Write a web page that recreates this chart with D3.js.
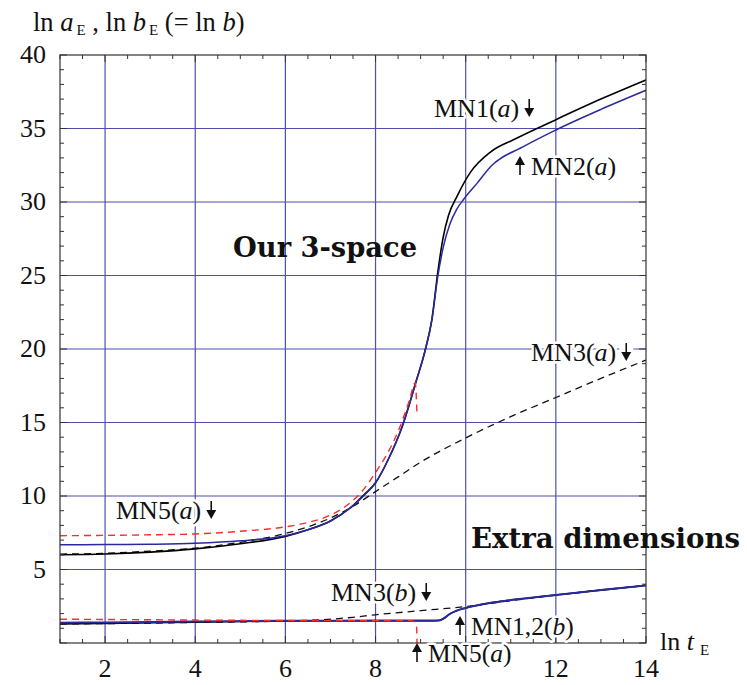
<!DOCTYPE html>
<html><head><meta charset="utf-8">
<script src="https://cdn.jsdelivr.net/npm/d3@7"></script>
<style>
html,body{margin:0;padding:0;background:#fff;}
svg{display:block;}
</style></head>
<body>
<script>
// ---- data (x = ln t_E, y = ln a_E or ln b_E) ----
const xTicks = [2, 4, 6, 8, 12, 14];
const yTicks = [5, 10, 15, 20, 25, 30, 35, 40];
const xGrid = [2, 4, 6, 8, 10, 12];
const yGrid = [5, 10, 15, 20, 25, 30, 35];

const MN1a = [[1,6.0],[2,6.05],[3,6.18],[4,6.4],[5,6.75],[6,7.25],[6.5,7.7],[7,8.3],[7.5,9.35],[7.75,10.1],[8,10.9],[8.3,12.6],[8.6,14.8],[8.9,17.8],[9.1,19.9],[9.25,22],[9.38,25.2],[9.5,27.6],[9.62,29.1],[9.81,30.4],[10.1,32.0],[10.55,33.4],[11.07,34.25],[12,35.6],[13,37.0],[14,38.3]];
const MN2a = [[1,6.68],[2,6.7],[3,6.72],[4,6.78],[5,6.95],[6,7.3],[6.5,7.7],[7,8.3],[7.5,9.35],[7.75,10.05],[8,10.9],[8.3,12.6],[8.6,14.8],[8.9,17.8],[9.1,19.9],[9.25,22],[9.38,24.9],[9.5,26.9],[9.65,28.5],[9.8,29.5],[9.96,30.2],[10.26,31.3],[10.55,32.4],[11.3,33.8],[12,34.9],[13,36.3],[14,37.6]];
const MN3a = [[1,6.05],[2,6.1],[3,6.25],[4,6.45],[5,6.85],[6,7.45],[6.5,7.9],[7,8.5],[7.5,9.3],[8,10.3],[8.5,11.3],[9,12.3],[10,13.95],[11,15.4],[12,16.7],[13,18.0],[14,19.25]];
const MN5a = [[1,7.3],[2,7.32],[3,7.36],[4,7.42],[5,7.6],[6,7.9],[6.5,8.2],[7,8.7],[7.5,9.7],[7.75,10.5],[8,11.6],[8.3,13.1],[8.56,14.85],[8.75,16.5],[8.88,17.7],[8.92,15.5]];
const MN5b = [[1,1.62],[2,1.6],[4,1.56],[6,1.53],[8,1.52],[8.8,1.52],[8.87,1.42],[8.91,1.1],[8.92,0]];
const MN1b = [[1,1.3],[2,1.33],[4,1.42],[6,1.5],[8,1.52],[9.3,1.52],[9.4,1.53],[9.5,1.65],[9.65,1.98],[9.8,2.2],[10,2.38],[10.5,2.7],[11,2.92],[12,3.27],[13,3.6],[14,3.92]];
const MN2b = [[1,1.38],[2,1.4],[4,1.46],[6,1.51],[8,1.52],[9.3,1.52],[9.4,1.53],[9.5,1.65],[9.65,1.98],[9.8,2.2],[10,2.38],[10.5,2.7],[11,2.92],[12,3.27],[13,3.6],[14,3.92]];
const MN3b = [[1,1.3],[2,1.32],[4,1.4],[6,1.5],[7,1.62],[7.5,1.75],[8,1.92],[9,2.2],[10,2.48],[11,2.88],[12,3.25],[13,3.6],[14,3.92]];

const W = 747, H = 685;
const svg = d3.select("body").append("svg").attr("width", W).attr("height", H);
const x = d3.scaleLinear().domain([1, 14]).range([60, 646]);
const y = d3.scaleLinear().domain([0, 40]).range([643, 55]);
const serif = "'Liberation Serif','Times New Roman',serif";
const gridColor = "#4f4fab";

// grid
svg.append("g").selectAll("line").data(xGrid).join("line")
  .attr("x1", d => x(d)).attr("x2", d => x(d)).attr("y1", y(0)).attr("y2", y(40))
  .attr("stroke", gridColor).attr("stroke-width", 1.2);
svg.append("g").selectAll("line").data(yGrid).join("line")
  .attr("y1", d => y(d)).attr("y2", d => y(d)).attr("x1", x(1)).attr("x2", x(14))
  .attr("stroke", gridColor).attr("stroke-width", 1.2);

// curves
const line = d3.line().x(d => x(d[0])).y(d => y(d[1])).curve(d3.curveMonotoneX);
const curves = [
  {d: MN3a, c: "#111", dash: "7,5", w: 1.3},
  {d: MN3b, c: "#111", dash: "7,5", w: 1.3},
  {d: MN1a, c: "#000", dash: null, w: 1.6},
  {d: MN1b, c: "#000", dash: null, w: 1.6},
  {d: MN2a, c: "#2a2a9a", dash: null, w: 1.5},
  {d: MN2b, c: "#2a2a9a", dash: null, w: 2},
  {d: MN5a, c: "#ff2a2a", dash: "7,5", w: 1.4},
  {d: MN5b, c: "#ff2a2a", dash: "7,5", w: 1.4}
];
svg.append("g").selectAll("path").data(curves).join("path")
  .attr("d", d => line(d.d)).attr("fill", "none")
  .attr("stroke", d => d.c).attr("stroke-width", d => d.w)
  .attr("stroke-dasharray", d => d.dash);

// frame and ticks
const fc = "#333";
svg.append("rect").attr("x", x(1)).attr("y", y(40)).attr("width", x(14) - x(1)).attr("height", y(0) - y(40))
  .attr("fill", "none").attr("stroke", fc).attr("stroke-width", 1.2);
const xMinor = d3.range(1, 14.01, 0.5);
const yMinor = d3.range(0, 40.01, 1);
const tk = svg.append("g").attr("stroke", fc).attr("stroke-width", 1);
xMinor.forEach(v => {
  const L = (v % 2 === 0) ? 7 : 4;
  tk.append("line").attr("x1", x(v)).attr("x2", x(v)).attr("y1", y(0)).attr("y2", y(0) - L);
  tk.append("line").attr("x1", x(v)).attr("x2", x(v)).attr("y1", y(40)).attr("y2", y(40) + L);
});
yMinor.forEach(v => {
  const L = (v % 5 === 0) ? 7 : 4;
  tk.append("line").attr("y1", y(v)).attr("y2", y(v)).attr("x1", x(1)).attr("x2", x(1) + L);
  tk.append("line").attr("y1", y(v)).attr("y2", y(v)).attr("x1", x(14)).attr("x2", x(14) - L);
});

// tick labels
svg.append("g").selectAll("text").data(xTicks).join("text")
  .attr("x", d => x(d)).attr("y", 677).attr("text-anchor", "middle")
  .attr("font-family", serif).attr("font-size", 26).attr("fill", "#111").text(d => d);
svg.append("g").selectAll("text").data(yTicks).join("text")
  .attr("x", 46).attr("y", d => y(d) + 8).attr("text-anchor", "end")
  .attr("font-family", serif).attr("font-size", 26).attr("fill", "#111").text(d => d);

// axis titles
const yt = svg.append("text").attr("x", 33).attr("y", 31).attr("font-family", serif)
  .attr("font-size", 26.5).attr("fill", "#111");
yt.append("tspan").text("ln ");
yt.append("tspan").attr("font-style", "italic").text("a");
yt.append("tspan").attr("font-size", 15).attr("dy", 4).attr("dx", 3).text("E");
yt.append("tspan").attr("dy", -4).text(" , ln ");
yt.append("tspan").attr("font-style", "italic").text("b");
yt.append("tspan").attr("font-size", 15).attr("dy", 4).attr("dx", 3).text("E");
yt.append("tspan").attr("dy", -4).text(" (= ln ");
yt.append("tspan").attr("font-style", "italic").text("b");
yt.append("tspan").text(")");

const xt = svg.append("text").attr("x", 660).attr("y", 650).attr("font-family", serif)
  .attr("font-size", 26).attr("fill", "#111");
xt.append("tspan").text("ln ");
xt.append("tspan").attr("font-style", "italic").text("t");
xt.append("tspan").attr("font-size", 15).attr("dy", 5).attr("dx", 6).text("E");

// curve labels (arrow: -1 = up arrow before text, 1 = down arrow after text)
const labels = [
  {name: "MN1", arg: "a", arrow: 1, x: 434, y: 117, fs: 26},
  {name: "MN2", arg: "a", arrow: -1, x: 514, y: 175, fs: 26},
  {name: "MN3", arg: "a", arrow: 1, x: 531, y: 361, fs: 26},
  {name: "MN5", arg: "a", arrow: 1, x: 116, y: 519, fs: 26},
  {name: "MN3", arg: "b", arrow: 1, x: 331, y: 601, fs: 26},
  {name: "MN1,2", arg: "b", arrow: -1, x: 454, y: 635, fs: 25.5},
  {name: "MN5", arg: "a", arrow: -1, x: 411, y: 662, fs: 25.5}
];
const lg = svg.append("g");
function arrow(g, cx, yTop, yBot, down) {
  const hl = 9, hw = 5;
  if (down) {
    g.append("line").attr("x1", cx).attr("x2", cx).attr("y1", yTop).attr("y2", yBot - hl + 1)
      .attr("stroke", "#111").attr("stroke-width", 1.6);
    g.append("path").attr("d", `M${cx - hw},${yBot - hl} L${cx + hw},${yBot - hl} L${cx},${yBot} Z`).attr("fill", "#111");
  } else {
    g.append("line").attr("x1", cx).attr("x2", cx).attr("y1", yTop + hl - 1).attr("y2", yBot)
      .attr("stroke", "#111").attr("stroke-width", 1.6);
    g.append("path").attr("d", `M${cx - hw},${yTop + hl} L${cx + hw},${yTop + hl} L${cx},${yTop} Z`).attr("fill", "#111");
  }
}
labels.forEach(l => {
  const g = lg.append("g");
  const tx = l.arrow < 0 ? l.x + 17 : l.x;
  const t = g.append("text").attr("x", tx).attr("y", l.y).attr("font-family", serif)
    .attr("font-size", l.fs).attr("fill", "#111")
    .attr("stroke", "#fff").attr("stroke-width", 5).attr("stroke-linejoin", "round")
    .attr("paint-order", "stroke");
  t.append("tspan").text(l.name + "(");
  t.append("tspan").attr("font-style", "italic").text(l.arg);
  t.append("tspan").text(")");
  const len = t.node().getComputedTextLength();
  if (l.arrow > 0) {
    const cx = tx + len + 10;
    g.insert("rect", "text").attr("x", cx - 7).attr("y", l.y - 19).attr("width", 14).attr("height", 21).attr("fill", "#fff");
    arrow(g, cx, l.y - 18, l.y, true);
  } else {
    const cx = l.x + 6;
    arrow(g, cx, l.y - 19, l.y, false);
  }
});

// region labels
const bold = "'DejaVu Serif',serif";
svg.append("text").attr("x", 233).attr("y", 257).attr("font-family", bold).attr("font-weight", "bold")
  .attr("font-size", 28).attr("fill", "#111").attr("textLength", 184).attr("lengthAdjust", "spacingAndGlyphs")
  .text("Our 3-space");
svg.append("text").attr("x", 471).attr("y", 548).attr("font-family", bold).attr("font-weight", "bold")
  .attr("font-size", 28).attr("fill", "#111").attr("textLength", 269).attr("lengthAdjust", "spacingAndGlyphs")
  .text("Extra dimensions");
</script>
</body></html>
